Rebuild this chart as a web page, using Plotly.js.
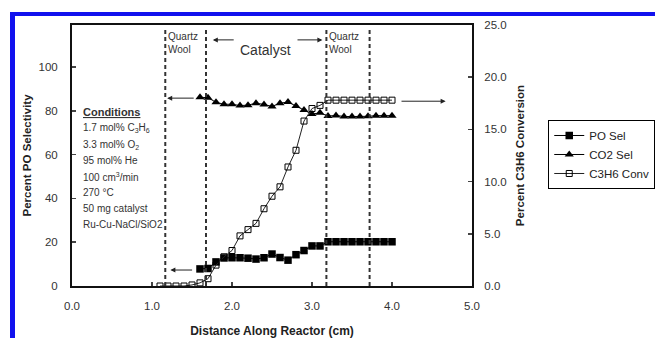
<!DOCTYPE html>
<html><head><meta charset="utf-8">
<script src="https://cdn.plot.ly/plotly-3.0.1.min.js"></script>
<style>
html,body{margin:0;padding:0;background:#fff;overflow:hidden;}
#wrap{position:relative;width:655px;height:338px;}
#chart{position:absolute;left:0;top:0;width:655px;height:338px;}
.bt{position:absolute;left:10px;top:12px;width:645px;height:4px;background:#1111ee;}
.bl{position:absolute;left:10px;top:12px;width:5px;height:326px;background:#1111ee;}
</style></head>
<body><div id="wrap"><div id="chart"></div><div class="bt"></div><div class="bl"></div></div>
<script>
// ---- data ----
const convX = [1.1,1.2,1.3,1.4,1.5,1.6,1.7,1.8,1.9,2.0,2.1,2.2,2.3,2.4,2.5,2.6,2.7,2.8,2.9,3.0,3.1,3.2,3.3,3.4,3.5,3.6,3.7,3.8,3.9,4.0];
const convY = [0,0,0,0,0.1,0.3,0.7,2.0,2.8,3.4,4.8,5.4,6.0,7.4,8.6,9.5,11.4,13.0,15.8,17.0,17.3,17.8,17.8,17.8,17.8,17.8,17.8,17.8,17.8,17.8];
const selX = [1.6,1.7,1.8,1.9,2.0,2.1,2.2,2.3,2.4,2.5,2.6,2.7,2.8,2.9,3.0,3.1,3.2,3.3,3.4,3.5,3.6,3.7,3.8,3.9,4.0];
const poSel = [7.8,8.0,11.0,12.8,12.9,12.9,12.7,12.3,12.9,14.6,13.0,11.8,14.3,16.2,18.3,18.3,20.2,20.2,20.2,20.2,20.2,20.2,20.2,20.2,20.2];
const co2Sel = [86.2,86.0,83.9,83.0,83.0,82.4,82.6,83.5,82.9,82.0,83.5,84.0,82.2,80.4,78.5,79.1,77.6,77.9,77.4,77.4,77.4,77.5,77.8,77.8,77.8];
const seriesNames = ["PO Sel","CO2 Sel","C3H6 Conv"];
const zoneBounds = [1.166, 1.675, 3.18, 3.72];
const xTicks = [0,1,2,3,4,5];
const yTicks = [0,20,40,60,80,100];
const y2Ticks = [0,5,10,15,20,25];
const conditions = ["<b><u>Conditions</u></b>","1.7 mol% C<sub>3</sub>H<sub>6</sub>","3.3 mol% O<sub>2</sub>","95 mol% He","100 cm<sup>3</sup>/min","270 °C","50 mg catalyst","Ru-Cu-NaCl/SiO2"];

const F = "Arial, 'Liberation Sans', sans-serif";
const traces = [
  {x: selX, y: poSel, name: seriesNames[0], mode: "lines+markers", yaxis: "y",
   line: {color: "#000", width: 1}, marker: {symbol: "square", size: 7.5, color: "#000"}},
  {x: selX, y: co2Sel, name: seriesNames[1], mode: "lines+markers", yaxis: "y",
   line: {color: "#000", width: 1}, marker: {symbol: "triangle-up", size: 8, color: "#000"}},
  {x: convX, y: convY, name: seriesNames[2], mode: "lines+markers", yaxis: "y2",
   line: {color: "#222", width: 1}, marker: {symbol: "square-open", size: 6, color: "#000", line: {width: 1}}}
];

const shapes = zoneBounds.map(b => ({type: "line", xref: "x", yref: "paper", x0: b, x1: b, y0: 0, y1: 0.99,
  line: {color: "#333", width: 2, dash: "4px,3px"}}));

const ann = [];
const condTop = 0.665, condStep = 0.0615;
conditions.forEach((t, i) => ann.push({xref: "paper", yref: "paper", x: 0.023, y: condTop - i*condStep,
  xanchor: "left", yanchor: "middle", showarrow: false, text: t,
  font: {family: F, size: i === 0 ? 11 : 10, color: "#333"}}));
[zoneBounds[0], zoneBounds[2]].forEach(b => ann.push({xref: "x", yref: "paper", x: b + 0.01, y: 0.985,
  xanchor: "left", yanchor: "top", showarrow: false, align: "left", text: "Quartz<br>Wool",
  font: {family: F, size: 10, color: "#333"}}));
ann.push({xref: "x", yref: "paper", x: 2.42, y: 0.943, showarrow: false, text: "Catalyst",
  font: {family: F, size: 14, color: "#333"}});
const arrowStyle = {showarrow: true, arrowhead: 2, arrowsize: 1, arrowwidth: 1, arrowcolor: "#222", text: ""};
ann.push(Object.assign({xref: "x", yref: "paper", axref: "x", ayref: "paper", x: 1.76, y: 0.943, ax: 2.04, ay: 0.943}, arrowStyle));
ann.push(Object.assign({xref: "x", yref: "paper", axref: "x", ayref: "paper", x: 3.13, y: 0.943, ax: 2.8, ay: 0.943}, arrowStyle));
ann.push(Object.assign({xref: "x", yref: "y", axref: "x", ayref: "y", x: 1.19, y: 85.8, ax: 1.54, ay: 85.8}, arrowStyle));
ann.push(Object.assign({xref: "x", yref: "y", axref: "x", ayref: "y", x: 1.23, y: 7.3, ax: 1.52, ay: 7.3}, arrowStyle));
ann.push(Object.assign({xref: "x", yref: "y2", axref: "x", ayref: "y2", x: 4.67, y: 17.7, ax: 4.1, ay: 17.7}, arrowStyle));

const tickFont = {family: F, size: 11.5, color: "#333"};
const titleFont = {family: F, size: 11.5, color: "#222", weight: "bold"};
const layout = {
  width: 655, height: 338,
  margin: {l: 72, r: 183, t: 25, b: 52, autoexpand: false},
  paper_bgcolor: "#fff", plot_bgcolor: "#fff",
  showlegend: true,
  legend: {xref: "container", yref: "container", x: 0.837, y: 0.645, xanchor: "left", yanchor: "top",
    bordercolor: "#000", borderwidth: 1,
    font: {family: F, size: 11.5, color: "#222"}, itemwidth: 30, tracegroupgap: 0, bgcolor: "#fff"},
  xaxis: {range: [0, 5], tickvals: xTicks, tickformat: ".1f", ticks: "inside", ticklen: 4, tickwidth: 1.5,
    showline: true, linewidth: 2, linecolor: "#111", mirror: true, showgrid: false, zeroline: false,
    tickfont: tickFont, ticklabelstandoff: 8, automargin: false,
    title: {text: "Distance Along Reactor (cm)", font: Object.assign({}, titleFont, {size: 12}), standoff: 17}},
  yaxis: {range: [0, 119.2], tickvals: yTicks, ticks: "inside", ticklen: 4, tickwidth: 1.5,
    showline: true, linewidth: 2, linecolor: "#111", showgrid: false, zeroline: false,
    tickfont: tickFont, ticklabelstandoff: 10, automargin: false,
    title: {text: "Percent PO Selectivity", font: titleFont, standoff: 4}},
  yaxis2: {range: [0, 25], tickvals: y2Ticks, tickformat: ".1f", overlaying: "y", side: "right",
    ticks: "inside", ticklen: 4, tickwidth: 1.5,
    showline: true, linewidth: 2, linecolor: "#111", showgrid: false, zeroline: false,
    tickfont: tickFont, ticklabelstandoff: 8, automargin: false,
    title: {text: "Percent C3H6 Conversion", font: titleFont, standoff: 10}},
  shapes: shapes,
  annotations: ann
};
Plotly.newPlot("chart", traces, layout, {displayModeBar: false, staticPlot: true});
</script></body></html>
